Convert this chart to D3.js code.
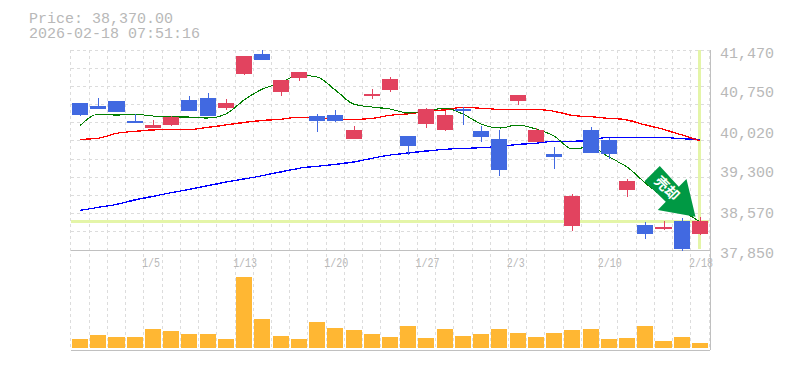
<!DOCTYPE html>
<html>
<head>
<meta charset="utf-8">
<script src="https://cdn.jsdelivr.net/npm/d3@7"></script>
<style>
  body { margin: 0; background: #fff; }
  svg { display: block; }
  text { font-family: "Liberation Mono", monospace; fill: #b8b8b8; }
</style>
</head>
<body>
<div id="chart"></div>
<script>
// Values
const dates = ['12/25','12/26','12/29','12/30','1/5','1/6','1/7','1/8','1/9','1/13','1/14','1/15','1/16','1/19','1/20','1/21','1/22','1/23','1/26','1/27','1/28','1/29','1/30','2/2','2/3','2/4','2/5','2/6','2/9','2/10','2/12','2/13','2/16','2/17','2/18'];
const opens = [40511,40456,40547,40185,40058,40113,40565,40601,40420,41036,41398,40710,40963,40275,40293,39859,40637,40746,39913,40131,40022,40402,40004,39859,40547,39805,39588,38284,40022,39841,38936,38303,38230,38375,38140];
const closes = [40299,40402,40348,40149,40113,40252,40366,40275,40511,41361,41289,40927,41072,40185,40185,40022,40674,40945,39732,40402,40293,40366,39895,39298,40656,40022,39533,38827,39606,39588,39099,38140,38266,37868,38370];
const highs = [40511,40601,40547,40312,40203,40275,40637,40692,40583,41361,41470,40927,41072,40312,40384,40094,40764,40981,39913,40420,40366,40438,40094,40022,40656,40058,39714,38864,40076,39877,39135,38357,38375,38429,38447];
const lows = [40281,40402,40348,40149,40058,40094,40366,40275,40384,41018,41289,40637,40909,39986,40167,39859,40583,40710,39570,40058,40004,40113,39805,39189,40475,39805,39316,38194,39606,39497,38809,38049,38212,37832,38122];
const maShort = [40100,40306,40293,40306,40275,40257,40257,40239,40312,40565,40764,40873,41018,40981,40746,40493,40438,40402,40330,40366,40420,40312,40131,40058,40113,40040,39913,39678,39714,39533,39352,39063,38809,38574,38357];
const maMid = [39854,39872,39962,39998,40022,40035,40035,40071,40113,40158,40194,40216,40252,40245,40216,40216,40234,40288,40312,40360,40384,40433,40415,40397,40397,40397,40360,40288,40263,40234,40203,40113,40035,39932,39823];
const maLong = [38569,38623,38677,38755,38822,38887,38949,39015,39081,39135,39195,39262,39329,39365,39401,39443,39510,39569,39606,39642,39673,39691,39702,39727,39763,39781,39817,39817,39841,39890,39890,39890,39890,39865,39854];
const volumes = [9,13,11,11,19,17,14,14,9,71,29,12,9,26,20,18,14,11,22,10,19,12,14,19,15,11,15,18,19,9,10,22,7,11,5];
const priceTicks = [41470,40750,40020,39300,38570,37850];
const dateTicks = ['1/5','1/13','1/20','1/27','2/3','2/10','2/18'];
const lastPrice = 38370;
const priceLabel = 'Price: 38,370.00';
const timeLabel = '2026-02-18 07:51:16';
const arrowLabel = '売却';

const width = 785, height = 370;
const plot = {left: 70.9, right: 709.1, top: 50, bottom: 250, volTop: 250, volBottom: 348};

const svg = d3.select('#chart').append('svg')
  .attr('width', width)
  .attr('height', height);

// the reference lines have no antialiasing, so cut the alpha to on/off
svg.append('defs').append('filter')
  .attr('id', 'monoLine')
  .attr('x', 0).attr('y', 0)
  .attr('width', width).attr('height', height)
  .attr('filterUnits', 'userSpaceOnUse')
  .append('feComponentTransfer')
  .append('feFuncA')
    .attr('type', 'discrete')
    .attr('tableValues', '0 1');

const x = d3.scaleBand()
  .domain(dates)
  .range([plot.left, plot.right])
  .paddingInner(0.12)
  .paddingOuter(0.06);
const xMid = d => x(d) + x.bandwidth() / 2;

const y = d3.scaleLinear()
  .domain([37850, 41470])
  .range([plot.bottom, plot.top]);

const yVol = d3.scaleLinear()
  .domain([0, d3.max(volumes)])
  .range([plot.volBottom, 277]);

// dashed grid, one vertical line between each day
const gridX = d3.range(dates.length + 1).map(i => plot.left + i * x.step());
const gridY = d3.range(12).map(i => plot.top + i * (plot.bottom - plot.top) / 11);
const grid = svg.append('g')
  .attr('stroke', '#dcdcdc')
  .attr('stroke-dasharray', '3,3')
  .attr('shape-rendering', 'crispEdges');
grid.selectAll('.gv').data(gridX).enter().append('line')
  .attr('x1', d => d).attr('x2', d => d)
  .attr('y1', plot.top).attr('y2', 350);
grid.selectAll('.gh').data(gridY).enter().append('line')
  .attr('x1', plot.left).attr('x2', plot.right)
  .attr('y1', d => d).attr('y2', d => d);

// outer frame, only bottom and right are solid
svg.append('path')
  .attr('d', `M${plot.left},250H710M${plot.left},350H710M710,50V350`)
  .attr('fill', 'none')
  .attr('stroke', '#c0c0c0')
  .attr('shape-rendering', 'crispEdges');

// crosshair on the last price and day
const cross = svg.append('g')
  .attr('stroke', '#e4f5a8')
  .attr('stroke-width', 3)
  .attr('shape-rendering', 'crispEdges');
cross.append('line')
  .attr('x1', plot.left).attr('x2', 709)
  .attr('y1', y(lastPrice)).attr('y2', y(lastPrice));
cross.append('line')
  .attr('x1', xMid('2/18')).attr('x2', xMid('2/18'))
  .attr('y1', plot.top).attr('y2', plot.bottom - 1);

// moving averages
const line = d3.line()
  .x((d, i) => xMid(dates[i]))
  .y(d => y(d))
  .curve(d3.curveMonotoneX);
const maLines = svg.append('g').attr('filter', 'url(#monoLine)');
[[maLong, '#0000ff', 1.3], [maMid, '#ff0000', 1.3], [maShort, '#007f00', 1.1]].forEach(function(s) {
  maLines.append('path')
    .datum(s[0])
    .attr('fill', 'none')
    .attr('stroke', s[1])
    .attr('stroke-width', s[2])
    .attr('d', line);
});

// candles
const upColor = '#e2435f', downColor = '#4169e1';
const candle = svg.append('g')
  .attr('shape-rendering', 'crispEdges')
  .selectAll('g')
  .data(dates)
  .enter()
  .append('g')
    .attr('fill', (d, i) => closes[i] > opens[i] ? upColor : downColor);
candle.append('rect')
  .attr('x', d => Math.round(xMid(d)))
  .attr('width', 1)
  .attr('y', (d, i) => y(highs[i]))
  .attr('height', (d, i) => y(lows[i]) - y(highs[i]));
candle.append('rect')
  .attr('x', d => x(d))
  .attr('width', x.bandwidth())
  .attr('y', (d, i) => y(Math.max(opens[i], closes[i])))
  .attr('height', (d, i) => Math.abs(y(opens[i]) - y(closes[i])));

// volume bars
svg.append('g')
  .attr('fill', '#ffb733')
  .attr('shape-rendering', 'crispEdges')
  .selectAll('rect')
  .data(volumes)
  .enter()
  .append('rect')
    .attr('x', (d, i) => x(dates[i]))
    .attr('width', x.bandwidth())
    .attr('y', d => yVol(d))
    .attr('height', d => plot.volBottom - yVol(d));

// signal arrow pointing at the last candle
const tipX = xMid('2/18') - 4.5, tipY = y(lastPrice) - 4.5;
const arrowShape = [[-35.7,-50.7],[-51,-35.4],[-29.7,-15],[-37.7,-6.7],[0,0],[-9,-37.7],[-16.7,-30]];
svg.append('path')
  .attr('d', d3.line()(arrowShape.map(p => [tipX + p[0], tipY + p[1]])) + 'Z')
  .attr('fill', '#009944');
svg.append('text')
  .attr('transform', `translate(${tipX - 28.5},${tipY - 28.5}) rotate(45)`)
  .attr('text-anchor', 'middle')
  .attr('dy', '0.36em')
  .style('font-family', '"Noto Sans CJK JP"')
  .style('font-size', '14px')
  .style('font-weight', 'bold')
  .style('fill', '#fff')
  .text(arrowLabel);

// grey labels, stretched to the reference cell widths
const labels = svg.append('g');

const xAxis = labels.append('g')
  .attr('transform', 'translate(0,250)')
  .call(d3.axisBottom(x).tickValues(dateTicks).tickSize(0).tickPadding(0));
xAxis.select('.domain').remove();
xAxis.selectAll('text')
  .attr('text-anchor', 'start')
  .attr('dx', -11)
  .attr('y', 17)
  .attr('dy', 0)
  .attr('textLength', d => d.length * 6)
  .attr('lengthAdjust', 'spacingAndGlyphs')
  .style('font-size', '13px')
  .style('font-family', '"Liberation Mono", monospace');

const yAxis = labels.append('g')
  .attr('transform', 'translate(710,0)')
  .call(d3.axisRight(y).tickValues(priceTicks).tickSize(0).tickPadding(10).tickFormat(d3.format(',')));
yAxis.select('.domain').remove();
yAxis.selectAll('text')
  .attr('dy', 7)
  .attr('textLength', 54)
  .attr('lengthAdjust', 'spacingAndGlyphs')
  .style('font-size', '14.5px')
  .style('font-family', '"Liberation Mono", monospace');

// header
[[priceLabel, 23], [timeLabel, 38]].forEach(function(h) {
  labels.append('text')
    .attr('x', 29)
    .attr('y', h[1])
    .attr('textLength', h[0].length * 9)
    .attr('lengthAdjust', 'spacingAndGlyphs')
    .style('font-size', '14.5px')
    .text(h[0]);
});
</script>
</body>
</html>
